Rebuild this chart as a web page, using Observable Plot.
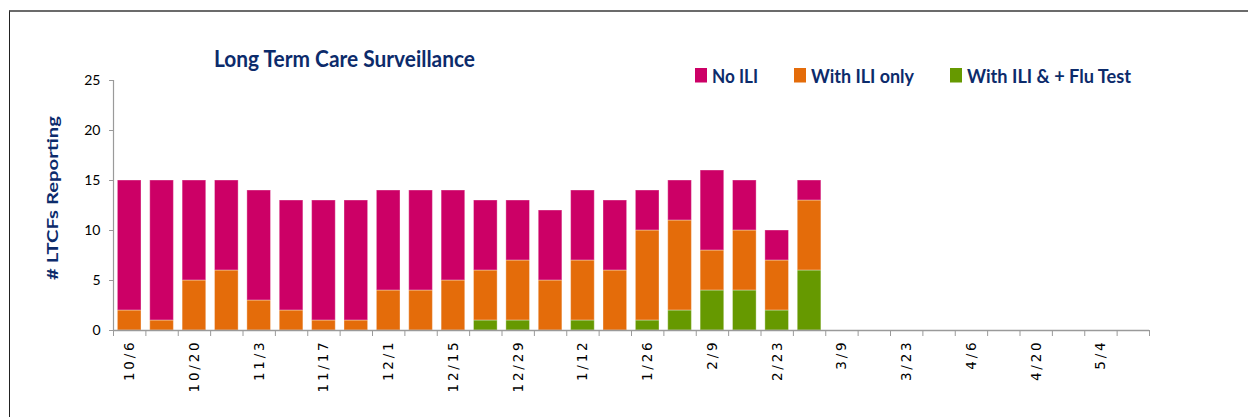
<!DOCTYPE html>
<html><head><meta charset="utf-8">
<script src="https://cdn.jsdelivr.net/npm/d3@7"></script>
<script src="https://cdn.jsdelivr.net/npm/@observablehq/plot@0.6"></script>
<style>
body{margin:0;background:#fff;}
#wrap{position:relative;width:1248px;height:417px;overflow:hidden;}
#frame{position:absolute;left:9px;top:10px;width:1300px;height:500px;border-top:2px solid #6b6b6b;border-left:1.5px solid #222;}
#chart{position:absolute;left:0;top:0;}
#overlay{position:absolute;left:0;top:0;pointer-events:none;}
.xlab text{letter-spacing:2.8px;}
</style></head><body>
<div id="wrap"><div id="frame"></div><div id="chart"></div><svg id="overlay" width="1248" height="417"></svg></div>
<script>
// ---- data ----
const weeks = ["10/6","10/13","10/20","10/27","11/3","11/10","11/17","11/24","12/1","12/8","12/15","12/22","12/29","1/5","1/12","1/19","1/26","2/2","2/9","2/16","2/23","3/2","3/9","3/16","3/23","3/30","4/6","4/13","4/20","4/27","5/4","5/11"];
const labelWeeks = ["10/6","10/20","11/3","11/17","12/1","12/15","12/29","1/12","1/26","2/9","2/23","3/9","3/23","4/6","4/20","5/4"];
const noILI    = [13,14,10,9,11,11,12,12,10,10,9,7,6,7,7,7,4,4,8,5,3,2];
const iliOnly  = [2,1,5,6,3,2,1,1,4,4,5,5,6,5,6,6,9,9,4,6,5,7];
const iliFlu   = [0,0,0,0,0,0,0,0,0,0,0,1,1,0,1,0,1,2,4,4,2,6];
const seriesNames = ["With ILI & + Flu Test","With ILI only","No ILI"];
const seriesColors = ["#669900","#E46C0A","#CC0066"];
const legendOrder = ["No ILI","With ILI only","With ILI & + Flu Test"];
const yTicks = [0,5,10,15,20,25];
const title = "Long Term Care Surveillance";
const yLabel = "# LTCFs Reporting";

// ---- build table ----
const rows = [];
noILI.forEach((_, i) => {
  rows.push({week: weeks[i], series: seriesNames[0], value: iliFlu[i]});
  rows.push({week: weeks[i], series: seriesNames[1], value: iliOnly[i]});
  rows.push({week: weeks[i], series: seriesNames[2], value: noILI[i]});
});

const W = 1248, H = 417, mL = 113, mR = 99, mT = 80, mB = 87;
const step = (W - mL - mR) / weeks.length;
const navy = "#0c2b6b";

const chart = Plot.plot({
  width: W, height: H, marginLeft: mL, marginRight: mR, marginTop: mT, marginBottom: mB,
  style: {background: "transparent", overflow: "visible", color: "#000"},
  x: {domain: weeks, paddingInner: 0.27, paddingOuter: 0.135, round: false, label: null},
  y: {domain: [0, 25], label: null},
  color: {domain: seriesNames, range: seriesColors},
  marks: [
    Plot.barY(rows, {x: "week", y: "value", fill: "series", stroke: "#ffffff", strokeOpacity: 0.35, strokeWidth: 1}),
    Plot.ruleY([0], {stroke: "#9a9a9a", strokeWidth: 1.5}),
    Plot.ruleX([weeks[0]], {y1: 0, y2: 25, dx: -step / 2, stroke: "#9a9a9a", strokeWidth: 1.2}),
    Plot.axisY(yTicks, {tickSize: 4, tickPadding: 9, fontSize: 14, fontFamily: "Lato", stroke: "#9a9a9a", fill: "#000", label: null}),
    Plot.axisX(weeks, {tickSize: 6, dx: -step / 2, tickFormat: () => "", stroke: "#9a9a9a", label: null}),
    Plot.axisX([weeks[weeks.length - 1]], {tickSize: 6, dx: step / 2, tickFormat: () => "", stroke: "#9a9a9a", label: null}),
    Plot.axisX(labelWeeks, {tickSize: 0, tickPadding: 9, tickRotate: -90, fontSize: 13.5, fontFamily: "DejaVu Sans", fill: "#000", label: null, className: "xlab"})
  ]
});
document.getElementById("chart").appendChild(chart);

// ---- title, legend, y label ----
const ov = d3.select("#overlay");
ov.append("text").text(title)
  .attr("x", 214).attr("y", 67)
  .attr("font-family", "Lato").attr("font-weight", "bold").attr("font-size", 23)
  .attr("fill", navy).attr("textLength", 261).attr("lengthAdjust", "spacingAndGlyphs");

ov.append("text").text(yLabel)
  .attr("transform", "translate(57.5,198) rotate(-90)")
  .attr("text-anchor", "middle")
  .attr("font-family", "Lato").attr("font-weight", "bold").attr("font-size", 15)
  .attr("fill", navy).attr("textLength", 164).attr("lengthAdjust", "spacingAndGlyphs");

const legendX = [695, 794, 950];
const legendW = [46, 103, 164];
const colorOf = name => seriesColors[seriesNames.indexOf(name)];
legendOrder.forEach((name, i) => {
  ov.append("rect").attr("x", legendX[i]).attr("y", 68).attr("width", 12).attr("height", 14.5).attr("fill", colorOf(name));
  ov.append("text").text(name)
    .attr("x", legendX[i] + 17).attr("y", 83)
    .attr("font-family", "Lato").attr("font-weight", "bold").attr("font-size", 19.5)
    .attr("fill", navy).attr("textLength", legendW[i]).attr("lengthAdjust", "spacingAndGlyphs");
});
</script>
</body></html>
